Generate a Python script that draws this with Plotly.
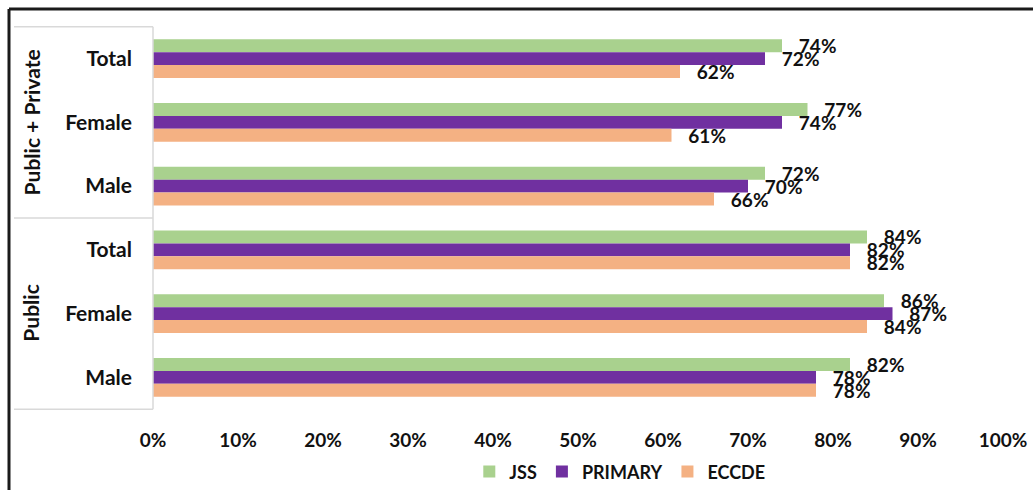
import plotly.graph_objects as go

groups = ["Public + Private", "Public"]
rows = ["Total", "Female", "Male"]
categories = [f"{g}|{r}" for g in groups for r in rows]
row_labels = rows * 2

jss = [74, 77, 72, 84, 86, 82]
primary = [72, 74, 70, 82, 87, 78]
eccde = [62, 61, 66, 82, 84, 78]

series = [("JSS", jss, "#A9D18E"), ("PRIMARY", primary, "#7030A0"), ("ECCDE", eccde, "#F4B183")]

FONT = "Lato"
fig = go.Figure()
for name, vals, col in series:
    fig.add_trace(go.Bar(
        name=name, y=categories, x=vals, orientation="h",
        marker=dict(color=col, line=dict(width=0)),
        text=[f"\u00a0\u00a0\u00a0{v}%" for v in vals],
        textposition="outside", constraintext="none", cliponaxis=False,
        textfont=dict(family=FONT, size=19, color="#111111", weight="bold"),
    ))

fig.update_layout(
    width=1033, height=490,
    margin=dict(l=153, r=30, t=26, b=80, autoexpand=False),
    paper_bgcolor="white", plot_bgcolor="white",
    barmode="group", bargap=0.39, bargroupgap=0,
    font=dict(family=FONT, size=19, color="#111111", weight="bold"),
    showlegend=True,
    legend=dict(orientation="h", xref="container", yref="container",
                x=0.6, xanchor="center", y=0.037, yanchor="middle",
                font=dict(family=FONT, size=18, color="#111111", weight="bold"),
                itemwidth=30, tracegroupgap=0),
    xaxis=dict(range=[0, 100], dtick=10, ticksuffix="%", showgrid=False,
               zeroline=False, showline=False, ticks="", ticklabelstandoff=17,
               automargin=False,
               tickfont=dict(family=FONT, size=19, color="#111111", weight="bold")),
    yaxis=dict(type="category", categoryorder="array", categoryarray=categories,
               autorange="reversed", tickmode="array", tickvals=categories,
               ticktext=row_labels, showgrid=False, zeroline=False, showline=False,
               ticks="", ticklabelstandoff=20, automargin=False,
               tickfont=dict(family=FONT, size=21, color="#111111", weight="bold")),
)

box_x0 = -139 / 850
for yv in [-0.5, 2.5, 5.5]:
    fig.add_shape(type="line", xref="paper", yref="y", x0=box_x0, x1=0, y0=yv, y1=yv,
                  line=dict(color="#D9D9D9", width=1.5))
fig.add_shape(type="line", xref="paper", yref="y", x0=0, x1=0, y0=-0.5, y1=5.5,
              line=dict(color="#D9D9D9", width=1.5))

for gi, g in enumerate(groups):
    fig.add_annotation(text=g, xref="paper", yref="y", x=-122 / 850, y=gi * 3 + 1,
                       textangle=-90, showarrow=False, xanchor="center", yanchor="middle",
                       font=dict(family=FONT, size=21, color="#111111", weight="bold"))

# outer frame (top and left edges)
fig.add_shape(type="line", xref="paper", yref="paper", x0=-144 / 850, x1=1.05, y0=1 + 17 / 384, y1=1 + 17 / 384,
              line=dict(color="#1a1a1a", width=3))
fig.add_shape(type="line", xref="paper", yref="paper", x0=-144 / 850, x1=-144 / 850, y0=1 + 17 / 384, y1=-80 / 384,
              line=dict(color="#1a1a1a", width=3))

fig.write_html("out.html")
